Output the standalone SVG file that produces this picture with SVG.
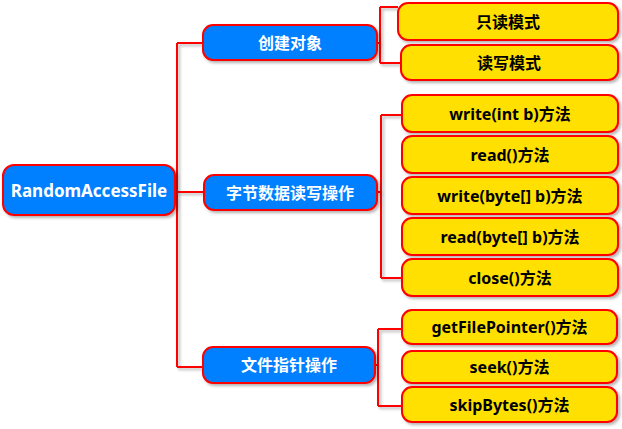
<svg xmlns="http://www.w3.org/2000/svg" width="622" height="429" viewBox="0 0 622 429">
<defs>
<filter id="sh" x="-10%" y="-20%" width="130%" height="160%">
<feDropShadow dx="2" dy="2" stdDeviation="1.5" flood-color="#000" flood-opacity="0.3"/>
</filter>
<style>
.blue{fill:#0080ff;stroke:#ff0000;stroke-width:2;filter:url(#sh)}
.yel{fill:#ffe000;stroke:#ff0000;stroke-width:2;filter:url(#sh)}
.tw{fill:#fff;font-family:"Noto Sans","Noto Sans CJK SC",sans-serif;font-weight:bold;font-size:16px;text-anchor:middle;dominant-baseline:central}
.tb{fill:#000;font-family:"Noto Sans","Noto Sans CJK SC",sans-serif;font-weight:bold;font-size:16px;text-anchor:middle;dominant-baseline:central}
.ln{fill:none;stroke:#ff0000;stroke-width:2;filter:url(#sh)}
</style>
</defs>
<rect width="622" height="429" fill="#fff"/>
<g id="connectors">
<path class="ln" d="M175 192 H177 M177 43 V367 M177 43 H203 M177 192 H204 M177 367 H203"/>
<path class="ln" d="M377 43 H380 M380 7 V63 M380 7 H398 M380 63 H401"/>
<path class="ln" d="M377 192 H381 M381 115 V278 M381 115 H402 M381 278 H402"/>
<path class="ln" d="M375 365 H378 M378 329 V406 M378 329 H402 M378 406 H402"/>
</g>
<g id="root"><rect class="blue" x="3" y="165" width="172" height="50" rx="11"/><text class="tw" x="89" y="190" style="font-size:17px">RandomAccessFile</text></g>
<g id="n1"><rect class="blue" x="203" y="25" width="174" height="35" rx="10"/><text class="tw" x="290" y="42.5">创建对象</text></g>
<g id="n2"><rect class="blue" x="204" y="175" width="173" height="35" rx="10"/><text class="tw" x="290" y="192.5">字节数据读写操作</text></g>
<g id="n3"><rect class="blue" x="203" y="347" width="172" height="36" rx="10"/><text class="tw" x="289" y="365">文件指针操作</text></g>
<g id="y1"><rect class="yel" x="398" y="3" width="220" height="37" rx="10"/><text class="tb" x="508" y="21.5">只读模式</text></g>
<g id="y2"><rect class="yel" x="401" y="45" width="217" height="35" rx="10"/><text class="tb" x="509" y="62.5">读写模式</text></g>
<g id="y3"><rect class="yel" x="402" y="95" width="216" height="37" rx="10"/><text class="tb" x="510" y="113.5">write(int b)方法</text></g>
<g id="y4"><rect class="yel" x="402" y="136" width="216" height="37" rx="10"/><text class="tb" x="510" y="154.5">read()方法</text></g>
<g id="y5"><rect class="yel" x="402" y="177" width="216" height="37" rx="10"/><text class="tb" x="510" y="195.5">write(byte[] b)方法</text></g>
<g id="y6"><rect class="yel" x="402" y="218" width="216" height="37" rx="10"/><text class="tb" x="510" y="236.5">read(byte[] b)方法</text></g>
<g id="y7"><rect class="yel" x="402" y="259" width="216" height="37" rx="10"/><text class="tb" x="510" y="277.5">close()方法</text></g>
<g id="y8"><rect class="yel" x="402" y="310" width="215" height="34" rx="10"/><text class="tb" x="509.5" y="327">getFilePointer()方法</text></g>
<g id="y9"><rect class="yel" x="402" y="351" width="215" height="32" rx="10"/><text class="tb" x="509.5" y="367">seek()方法</text></g>
<g id="y10"><rect class="yel" x="402" y="387" width="215" height="35" rx="10"/><text class="tb" x="509.5" y="404.5">skipBytes()方法</text></g>
</svg>
